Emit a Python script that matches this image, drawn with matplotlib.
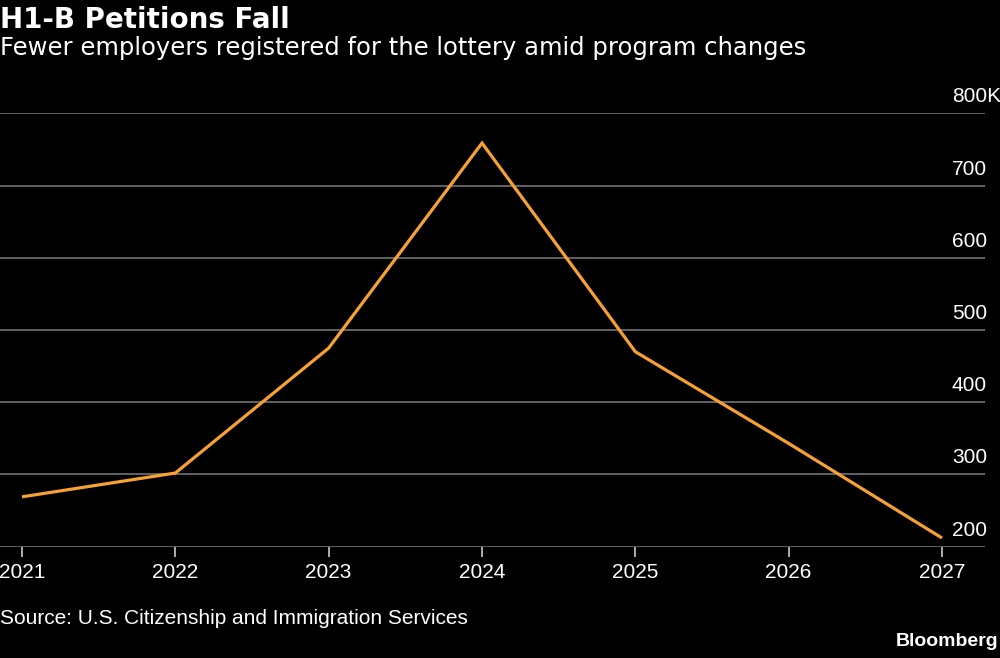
import matplotlib
matplotlib.use("Agg")
import matplotlib.pyplot as plt

# Datos (miles de registros)
years = [2021, 2022, 2023, 2024, 2025, 2026, 2027]
petitions = [269, 302, 475, 759, 470, 343, 212]
y_ticks = [200, 300, 400, 500, 600, 700, 800]
y_labels = ["200", "300", "400", "500", "600", "700", "800K"]

title = "H1-B Petitions Fall"
subtitle = "Fewer employers registered for the lottery amid program changes"
source = "Source: U.S. Citizenship and Immigration Services"

plt.rcParams["font.family"] = ["Liberation Sans", "DejaVu Sans"]

fig = plt.figure(figsize=(10, 6.58), dpi=100, facecolor="black")
ax = fig.add_axes([0.0, 0.1692, 0.985, 0.6584], facecolor="black")

ax.plot(years, petitions, color="#f7a132", linewidth=2.3, solid_joinstyle="miter",
        solid_capstyle="butt", zorder=3)

ax.set_xlim(2021 - 22 / 153.33, 2027 + 43 / 153.33)
ax.set_ylim(200, 800)
ax.set_yticks(y_ticks)
ax.set_xticks(years)
ax.set_xticklabels([str(y) for y in years])
ax.grid(axis="y", color="#6a6a6a", linewidth=1.3)
ax.set_axisbelow(True)
for s in ax.spines.values():
    s.set_visible(False)

ax.tick_params(axis="y", left=False, labelleft=False)
ax.tick_params(axis="x", direction="out", length=7, width=1.3, color="#bbbbbb",
               pad=5, labelsize=15, labelcolor="white")

# etiquetas del eje y encima de las líneas
for v, lab in zip(y_ticks, y_labels):
    ax.annotate(lab, xy=(952 / 985, v), xycoords=ax.get_yaxis_transform(),
                xytext=(0, 8), textcoords="offset points",
                ha="left", va="baseline", color="white", fontsize=15)

fig.text(0.0, 0.958, title, color="white", fontsize=20, fontweight="bold",
         family="DejaVu Sans", va="baseline")
fig.text(0.0, 0.917, subtitle, color="white", fontsize=17.5, family="DejaVu Sans",
         va="baseline")
fig.text(0.0, 0.051, source, color="white", fontsize=15, va="baseline")
fig.text(0.998, 0.018, "Bloomberg", color="white", fontsize=14, fontweight="bold",
         ha="right", va="baseline")

fig.savefig("out.png", dpi=100, facecolor="black")
